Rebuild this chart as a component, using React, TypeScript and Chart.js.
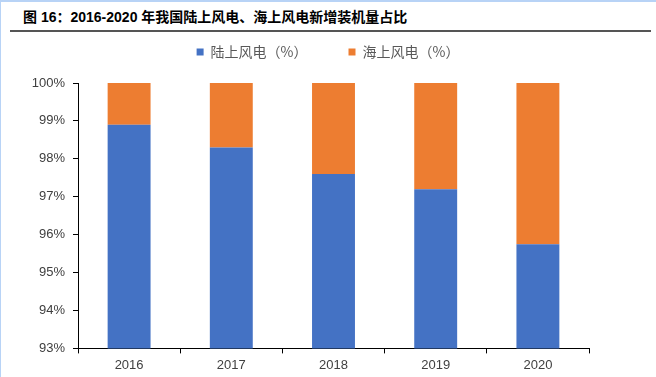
import React, { useEffect, useRef } from "react";
import { Chart, registerables } from "chart.js";

Chart.register(...registerables);

const titleText = "图 16：2016-2020 年我国陆上风电、海上风电新增装机量占比";
const categories = ["2016", "2017", "2018", "2019", "2020"];
const seriesNames = ["陆上风电（%）", "海上风电（%）"];
const onshoreShare = [98.9, 98.3, 97.6, 97.2, 95.75];
const offshoreShare = [1.1, 1.7, 2.4, 2.8, 4.25];
const yMin = 93;
const yMax = 100;
const yStep = 1;

const BLUE = "#4472C4";
const ORANGE = "#ED7D31";
const CJK = "'Noto Sans CJK SC', sans-serif";
const NUM = "'Liberation Sans', 'Noto Sans CJK SC', sans-serif";

const legendTweak = {
  id: "legendTweak",
  beforeInit(chart: any) {
    const legend = chart.legend;
    if (!legend) return;
    const orig = legend.fit;
    legend.fit = function () {
      orig.call(this);
      this.height = 79;
    };
  },
  beforeDraw(chart: any) {
    const legend = chart.legend;
    if (!legend) return;
    legend.left = 0;
    legend.right = chart.width;
  },
};

export default function App() {
  const ref = useRef<HTMLCanvasElement | null>(null);

  useEffect(() => {
    if (!ref.current) return;
    const chart = new Chart(ref.current, {
      type: "bar",
      data: {
        labels: categories,
        datasets: [
          {
            label: seriesNames[0],
            data: onshoreShare,
            backgroundColor: BLUE,
            borderWidth: 0,
            barPercentage: 0.42,
            categoryPercentage: 1,
            stack: "s",
          },
          {
            label: seriesNames[1],
            data: offshoreShare,
            backgroundColor: ORANGE,
            borderWidth: 0,
            barPercentage: 0.42,
            categoryPercentage: 1,
            stack: "s",
          },
        ],
      },
      options: {
        responsive: false,
        animation: false,
        devicePixelRatio: 1,
        layout: { padding: { left: 0, right: 67, top: 4, bottom: 0 } },
        plugins: {
          legend: {
            position: "top",
            labels: {
              boxWidth: 7,
              boxHeight: 7,
              padding: 41,
              color: "#595959",
              font: { size: 14, family: CJK },
            },
          },
          tooltip: { enabled: false },
        },
        scales: {
          x: {
            stacked: true,
            grid: {
              display: true,
              drawOnChartArea: false,
              drawTicks: true,
              tickLength: 5,
              color: "#000",
              offset: true,
            },
            border: { display: true, color: "#000", width: 1 },
            ticks: { color: "#404040", font: { size: 13, family: NUM }, padding: 4 },
          },
          y: {
            stacked: true,
            min: yMin,
            max: yMax,
            ticks: {
              stepSize: yStep,
              callback: (v: any) => v + "%",
              color: "#404040",
              font: { size: 13, family: NUM },
              padding: 8,
            },
            grid: { drawOnChartArea: false, drawTicks: true, tickLength: 5, color: "#000" },
            border: { display: true, color: "#000", width: 1 },
            afterFit: (s: any) => {
              s.width = 78;
            },
          },
        },
      },
      plugins: [legendTweak],
    });
    return () => chart.destroy();
  }, []);

  return (
    <div style={{ position: "absolute", left: 0, top: 0, width: 656, height: 377, background: "#fff", overflow: "hidden" }}>
      <div style={{ position: "absolute", left: 0, top: 0, width: 656, height: 2, background: "#b8d3f6" }} />
      <div style={{ position: "absolute", left: 0, top: 0, width: 1, height: 377, background: "#b8d3f6" }} />
      <div
        style={{
          position: "absolute",
          left: 23,
          top: 7,
          lineHeight: "20px",
          fontSize: 14,
          fontWeight: "bold",
          fontFamily: NUM,
          color: "#000",
          whiteSpace: "nowrap",
        }}
      >
        {titleText}
      </div>
      <div style={{ position: "absolute", left: 10, top: 30, width: 641, height: 2, background: "#555" }} />
      <canvas ref={ref} width={656} height={377} style={{ position: "absolute", left: 0, top: 0, display: "block" }} />
    </div>
  );
}
